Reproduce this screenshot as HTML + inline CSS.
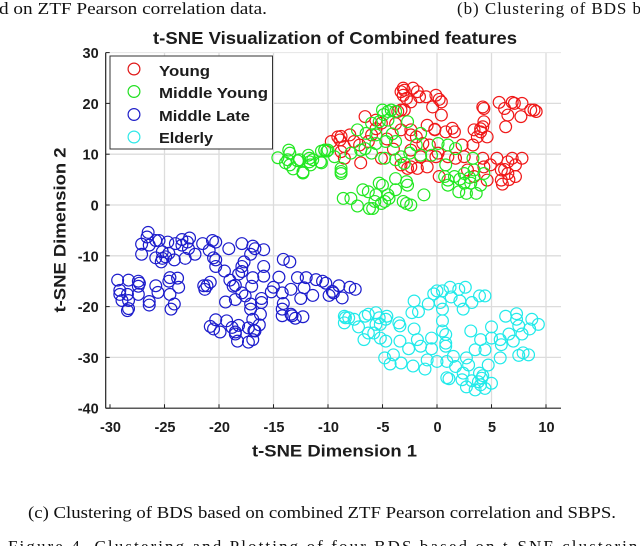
<!DOCTYPE html>
<html lang="en">
<head>
<meta charset="utf-8">
<title>t-SNE Visualization of Combined features</title>
<style>
html,body{margin:0;padding:0;background:#fff;}
body{width:640px;height:546px;overflow:hidden;position:relative;}
svg{position:absolute;left:0;top:0;display:block;filter:blur(0.35px);}
.serif{font-family:"Liberation Serif",serif;fill:#111;font-size:17px;}
.bold{font-family:"Liberation Sans",sans-serif;font-weight:bold;fill:#1c1c1c;}
</style>
</head>
<body>
<svg id="chart" width="640" height="546" viewBox="0 0 640 546" xmlns="http://www.w3.org/2000/svg">
  <text class="serif" x="-1" y="14" textLength="268" lengthAdjust="spacingAndGlyphs">d on ZTF Pearson correlation data.</text>
  <text class="serif" x="457" y="14" textLength="184" lengthAdjust="spacing">(b) Clustering of BDS b</text>
  <text class="bold" x="335" y="44" text-anchor="middle" font-size="17.5" textLength="364" lengthAdjust="spacingAndGlyphs">t-SNE Visualization of Combined features</text>
  <g id="grid"></g>
  <g id="marks"></g>
  <g id="axes"></g>
  <g>
    <rect x="110" y="56" width="162.5" height="93" fill="#fff" stroke="#333" stroke-width="1"/>
    <g>
      <circle cx="134" cy="69" r="5.9" fill="none" stroke="#e01818" stroke-width="1.2"/>
      <text class="bold" x="159" y="76" font-size="15" textLength="51" lengthAdjust="spacingAndGlyphs">Young</text>
    </g>
    <g>
      <circle cx="134" cy="91.5" r="5.9" fill="none" stroke="#22e022" stroke-width="1.2"/>
      <text class="bold" x="159" y="98" font-size="15" textLength="109" lengthAdjust="spacingAndGlyphs">Middle Young</text>
    </g>
    <g>
      <circle cx="134" cy="114.5" r="5.9" fill="none" stroke="#2020c8" stroke-width="1.2"/>
      <text class="bold" x="159" y="121" font-size="15" textLength="91" lengthAdjust="spacingAndGlyphs">Middle Late</text>
    </g>
    <g>
      <circle cx="134" cy="137" r="5.9" fill="none" stroke="#30e8e8" stroke-width="1.2"/>
      <text class="bold" x="159" y="143" font-size="15" textLength="54" lengthAdjust="spacingAndGlyphs">Elderly</text>
    </g>
  </g>
  <text class="bold" x="334.5" y="456.5" text-anchor="middle" font-size="16.5" textLength="165" lengthAdjust="spacingAndGlyphs">t-SNE Dimension 1</text>
  <text class="bold" transform="translate(65.5,230) rotate(-90)" text-anchor="middle" font-size="16.5" textLength="165" lengthAdjust="spacingAndGlyphs">t-SNE Dimension 2</text>
  <text class="serif" x="28" y="518" textLength="588" lengthAdjust="spacingAndGlyphs">(c) Clustering of BDS based on combined ZTF Pearson correlation and SBPS.</text>
  <text class="serif" x="8" y="552" textLength="640" lengthAdjust="spacing">Figure 4. Clustering and Plotting of four BDS based on t-SNE clustering</text>
</svg>
<script>
const xTicks = [-30, -25, -20, -15, -10, -5, 0, 5, 10];
const yTicks = [30, 20, 10, 0, -10, -20, -30, -40];
const seriesNames = ['young', 'middle-young', 'middle-late', 'elderly'];
const youngPoints = [[-3.1,23],[-3.3,22.3],[-3.1,21.6],[-2.8,21],[-2.4,20.3],[-2.2,23],[-1.8,22.3],[-1.6,21.3],[-1,21.3],[-0.4,19.3],[-0.1,21.6],[0.2,20.8],[0.4,20.3],[0.4,17.7],[-0.9,15.7],[-0.2,14.9],[1.4,15.1],[1.6,14.4],[0.8,14.4],[-0.2,14.8],[4.2,19.3],[4.3,19],[5.7,20.2],[6.9,20.2],[7.1,20],[7.8,20],[6.2,19],[6.5,17.7],[7.7,17.4],[6.3,15.4],[8.6,18.7],[8.9,18.7],[9.1,18.4],[3.4,14.8],[4.3,16.4],[4.2,15.4],[4,14.4],[3.7,13.4],[4.6,13.4],[3.3,11.8],[2.3,11.8],[-6.6,17.4],[-9.1,13.4],[-8.9,12.8],[-9.7,12.5],[-8,13.8],[-8.5,11.5],[-7,8.3],[-3.3,18.7],[-3,18.7],[-3.6,18.4],[-5.6,16.7],[-5.1,16.1],[-3.3,14.8],[-2.4,14.8],[-2.4,13.8],[-1.9,13.4],[-1.3,12.1],[-2.4,10.8],[-0.7,11.8],[0.1,10.2],[-0.1,9.5],[1.7,9.2],[2.5,9.5],[4.2,9.2],[5.5,9.2],[6.9,9.2],[7.8,9.2],[6.5,8.5],[7.2,7.9],[4.9,7.9],[5.9,6.9],[6.5,6.2],[7.2,5.6],[5.9,4.9],[6,4.1],[4.6,4.9],[0.2,5.6],[-2.4,7.5],[-1.8,7.2],[-0.9,7.5],[-3.3,7.9],[-2.7,7.2],[1,9.5],[-6.3,12.5],[-7.1,11.8],[-8.8,10.5],[-8.5,9.2],[-5.1,9.2],[-6,13.8],[-7.6,12.5],[2.8,6.9],[3.4,5.6],[4.3,7.5],[-3,22.6],[-8.8,13.5],[4,15],[6.2,7],[6.6,5],[-5.6,15],[-4.6,13],[-4,11],[-1.5,9.5],[-3.8,16]];
const middleYoungPoints = [[-14.6,9.3],[-13.6,10.8],[-13.5,10.2],[-13.7,8.9],[-13.5,7.9],[-13.2,7.1],[-12.6,8.9],[-12.3,6.5],[-12.3,6.3],[-11.8,9.8],[-11.7,8.5],[-11.6,7.9],[-10.7,8.5],[-10.6,10.6],[-10.3,10.8],[-10.1,10.6],[-12.8,8.7],[-13.9,8.3],[-8.6,1.3],[-7.9,1.3],[-7.3,-0.2],[-6.8,3],[-6.3,2.6],[-5.6,2],[-5.3,4.3],[-5,3.9],[-4.5,2],[-4.4,1.3],[-3.8,5.2],[-3.8,3],[-2.7,3.9],[-2.8,4.6],[-1.2,2],[-3.1,0.7],[-2.8,0.3],[-2.4,0],[-6.2,-0.7],[-5.9,-0.7],[-5.1,0.3],[-5.7,0.7],[-4.8,0.7],[-11.4,8.9],[-11.7,9.2],[-10.6,8.3],[-10.3,10.8],[-10,10.8],[-8.8,7.2],[-8.8,6.6],[-8.8,6.2],[-9.4,9.5],[-7.3,14.8],[-6.5,14.1],[-5.6,13.8],[-5,18.7],[-4.5,18.4],[-4.2,18.7],[-3.8,18.4],[-2.7,16.4],[-4.5,16.7],[-5.3,16.4],[-6,16.1],[-4.7,12.5],[-3.8,12.5],[-7,10.8],[-6,10.2],[-4.8,9.2],[-3.8,8.9],[-3,8.2],[-2.5,10.2],[-1.5,9.8],[-1.5,14.1],[-1.9,11.8],[0.1,12.1],[1,11.8],[1.7,11.1],[0.8,7.9],[0.7,5.6],[1,3.9],[2,2.6],[2.7,2.3],[3.6,2.3],[4,3.9],[3.1,4.3],[2.5,6.2],[3.4,6.9],[1.6,5.6],[2.5,4.3],[1,4.9],[4.3,6.2],[3.3,9.2],[-0.5,9.8],[-3.3,9.5],[-6.6,11.1],[-7.9,10.2],[-5.6,12.1],[-4.9,17.8],[2.1,5.1],[3,5.4],[-4.1,14]];
const middleLatePoints = [[-26.5,-5.4],[-26.6,-6.3],[-27.1,-7.7],[-26.4,-7.9],[-27.1,-9.7],[-25.8,-7],[-25.5,-7],[-24.7,-7.3],[-24,-7.6],[-23.4,-6.8],[-22.7,-6.5],[-22.9,-7.3],[-23.4,-7.9],[-22.8,-8.6],[-21.5,-7.6],[-20.6,-7],[-20.3,-7.3],[-20.9,-8.9],[-20.5,-10.4],[-20.3,-10.8],[-20.3,-12.1],[-22.2,-9.7],[-23.1,-10.5],[-24.1,-10.8],[-24.6,-9.5],[-25.2,-9.2],[-25.8,-10.4],[-25.3,-11.2],[-24.9,-10.2],[-25.2,-10.5],[-19.1,-8.6],[-17.9,-7.6],[-16.9,-8.1],[-16.7,-8.6],[-15.9,-8.8],[-17.1,-9.7],[-17.7,-11.2],[-17.9,-12.1],[-17.9,-13.1],[-18.2,-13.6],[-19.5,-13],[-19,-14.8],[-18.5,-15.8],[-18.7,-16],[-14.1,-10.7],[-13.5,-11.2],[-15.9,-12.1],[-15.9,-14],[-16.9,-14.3],[-17,-16],[-14.5,-14.2],[-12.8,-14.3],[-12,-14.3],[-11.1,-14.7],[-10.5,-15],[-10.2,-15.4],[-9,-15.9],[-8,-16.2],[-7.5,-16.6],[-9.6,-17],[-9.5,-17.3],[-8.7,-18.3],[-9.9,-17.8],[-11.4,-17.8],[-12.2,-16.3],[-12.5,-18.4],[-13.4,-16.6],[-14.2,-17.3],[-15,-16.2],[-15.2,-17.1],[-14.1,-19.4],[-14.2,-20.5],[-14.2,-21.8],[-13.4,-21.5],[-13.3,-21.8],[-13,-22.3],[-12.3,-22],[-29.3,-14.8],[-28.3,-14.8],[-27.4,-15],[-27.3,-15.4],[-27.4,-16],[-27.4,-17.6],[-29.1,-16.8],[-29.1,-17.6],[-28.4,-17.6],[-28.9,-18.8],[-28.3,-18.8],[-28.3,-20.4],[-28.4,-20.8],[-26.4,-19],[-26.4,-19.7],[-25.8,-15.9],[-25.6,-17.2],[-24.5,-14.3],[-23.8,-14.4],[-24.6,-15],[-23.7,-16.2],[-24.5,-17.6],[-24.1,-19.5],[-24.4,-20.5],[-21.3,-16.6],[-21.1,-15.9],[-20.8,-15.2],[-21.4,-15.9],[-19.4,-19.1],[-18.5,-18.6],[-17.9,-17.3],[-17.6,-17.9],[-17.1,-19.5],[-17.1,-20.5],[-16.1,-18.4],[-16.1,-19.2],[-16.2,-21.5],[-16.9,-22.5],[-16.3,-23.6],[-16.8,-24.7],[-16.7,-24.8],[-16.9,-26.5],[-17.3,-27],[-18.3,-26.8],[-18.5,-25.4],[-18.8,-24.1],[-18.2,-23.7],[-19.3,-22.8],[-20.3,-22.6],[-20.8,-23.9],[-20.5,-24.4],[-19.9,-25],[-18.5,-25],[-17.3,-24.2]];
const elderlyPoints = [[-8.5,-21.9],[-8.4,-22.2],[-8.5,-23.2],[-8.1,-22.2],[-7.6,-22.5],[-7.2,-24],[-6.7,-26.5],[-6.6,-21.9],[-6.3,-21.5],[-5.6,-21.2],[-5.3,-22.2],[-5.6,-23.5],[-5.2,-23.5],[-4.6,-21.9],[-4.7,-22.5],[-6.3,-25.2],[-5.8,-25.2],[-5.2,-26.2],[-4.7,-26.8],[-3.5,-23.2],[-3.4,-23.8],[-3.4,-26.8],[-2.6,-28.3],[-2.1,-24.4],[-2.1,-18.9],[-2.3,-21.2],[-1.7,-21],[-1.8,-26.5],[-1.5,-27.8],[-0.5,-26.2],[-0.5,-28.3],[0,-16.9],[-0.3,-17.5],[0.5,-16.9],[0.3,-19.2],[-0.8,-19.5],[0.5,-20.5],[0.5,-22.8],[0.5,-24.8],[0.8,-25.5],[0.8,-27.2],[0.8,-27.8],[1.2,-16.2],[1.3,-18.1],[2,-16.6],[2.6,-16.2],[2.1,-18.9],[2.4,-20.5],[3.9,-17.9],[4.4,-17.9],[3.2,-19.2],[3.1,-24.8],[4,-26.5],[3.5,-28.5],[4.4,-28.5],[5,-24],[5,-26.2],[5.8,-26.5],[5.9,-27.5],[6.3,-21.9],[7.3,-21.4],[7.3,-22.5],[7.5,-23.8],[8.7,-22.5],[9.3,-23.5],[8.5,-24.4],[7,-26.8],[7.8,-25.4],[7.9,-29.1],[8.4,-29.5],[7.5,-29.6],[5.8,-30.1],[4.7,-31.5],[2.7,-30.1],[1.5,-29.8],[1.7,-31.8],[0.9,-30.8],[0,-30.8],[-0.9,-30.5],[-1.1,-32.3],[-2.2,-31.7],[-3.3,-31.1],[-4,-29.5],[-4.3,-31.3],[-4.8,-30.1],[1.1,-34.2],[0.9,-34],[2.4,-33.1],[2.3,-34.4],[3.9,-33.1],[4.1,-34.1],[5,-35.1],[4.4,-36.1],[3.5,-36.4],[2.7,-35.8],[3.8,-34.8],[3.2,-34.6],[4,-35.4],[4.2,-33.6],[2.9,-31.5],[6.6,-25.4]];

const svgNS = 'http://www.w3.org/2000/svg';
const plotLeft = 105.7, plotRight = 561, plotTop = 52.6;
const x0Pixel = 437, xScale = 10.9;
const y0Pixel = 205, yScale = 5.08;
function xAxis(v) { return x0Pixel + v * xScale; }
function yAxis(v) { return y0Pixel - v * yScale; }
const plotBottom = yAxis(-40);

function make(tag, attrs, parent) {
  const el = document.createElementNS(svgNS, tag);
  for (const k in attrs) el.setAttribute(k, attrs[k]);
  parent.appendChild(el);
  return el;
}
const gridG = document.getElementById('grid');
const axesG = document.getElementById('axes');
const marksG = document.getElementById('marks');

xTicks.forEach(function (t) {
  const x = xAxis(t);
  if (t > xTicks[0]) {
    const g = make('line', {x1: x, x2: x, y1: plotTop, y2: plotBottom, stroke: '#dcdcdc', 'stroke-width': 1.3}, gridG);
    
    
  }
  const tick = make('line', {x1: x, x2: x, y1: plotBottom, y2: plotBottom - 4, stroke: '#222', 'stroke-width': 1}, axesG);
  
  
  const label = make('text', {x: x + 0.5, y: plotBottom + 24, 'text-anchor': 'middle', 'font-size': 14.5, class: 'bold'}, axesG);
  label.textContent = String(t);
  
  
});
yTicks.forEach(function (t) {
  const y = yAxis(t);
  if (t < yTicks[0] && t > yTicks[yTicks.length - 1]) {
    const g = make('line', {x1: plotLeft, x2: plotRight, y1: y, y2: y, stroke: '#dcdcdc', 'stroke-width': 1.3}, gridG);
    
    
  }
  const tick = make('line', {x1: plotLeft, x2: plotLeft + 4, y1: y, y2: y, stroke: '#222', 'stroke-width': 1}, axesG);
  
  
  const label = make('text', {x: plotLeft - 7, y: y + 5.5, 'text-anchor': 'end', 'font-size': 14.5, class: 'bold'}, axesG);
  label.textContent = String(t);
  
  
});
const topEdge = make('line', {x1: plotLeft, x2: plotRight, y1: plotTop, y2: plotTop, stroke: '#e4e4e4', 'stroke-width': 1}, gridG);


const ySpine = make('line', {x1: plotLeft, x2: plotLeft, y1: plotTop, y2: plotBottom, stroke: '#222', 'stroke-width': 1.2}, axesG);


const xSpine = make('line', {x1: plotLeft, x2: plotRight, y1: plotBottom, y2: plotBottom, stroke: '#222', 'stroke-width': 1.2}, axesG);



function drawSeries(points, color, seriesName) {
  const group = make('g', {fill: 'none', stroke: color, 'stroke-width': 1.2}, marksG);
  
  
  points.forEach(function (p) {
    const c = make('circle', {cx: xAxis(p[0]), cy: yAxis(p[1]), r: 5.9}, group);
    
    
  });
}
drawSeries(youngPoints, '#f01818', seriesNames[0]);
drawSeries(middleYoungPoints, '#22e822', seriesNames[1]);
drawSeries(middleLatePoints, '#1c1ccc', seriesNames[2]);
drawSeries(elderlyPoints, '#22eaea', seriesNames[3]);
</script>
</body>
</html>
